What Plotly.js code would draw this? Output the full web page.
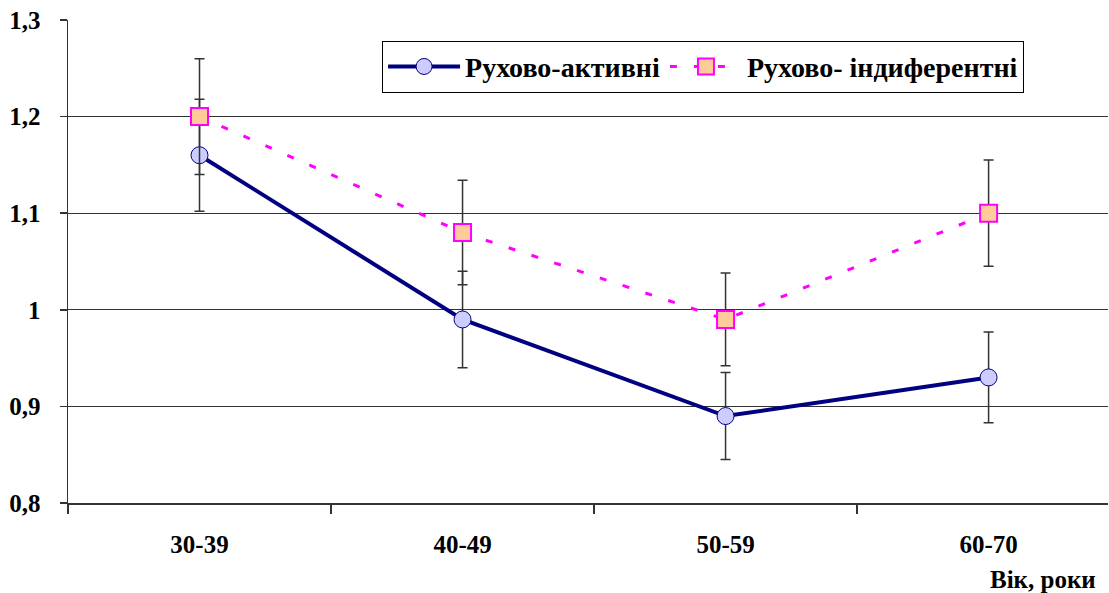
<!DOCTYPE html>
<html>
<head>
<meta charset="utf-8">
<script src="https://cdn.plot.ly/plotly-3.0.1.min.js"></script>
<style>html,body{margin:0;padding:0;background:#fff;}#chart{width:1109px;height:593px;}</style>
</head>
<body>
<div id="chart"></div>
<script>
const categories = ['30-39', '40-49', '50-59', '60-70'];
const activeName = 'Рухово-активні';
const activeValues = [1.16, 0.99, 0.89, 0.93];
const activeErrors = [0.058, 0.05, 0.045, 0.047];
const indiffName = 'Рухово- індиферентні';
const indiffValues = [1.20, 1.08, 0.99, 1.10];
const indiffErrors = [0.06, 0.054, 0.048, 0.055];
const yTicks = [0.8, 0.9, 1.0, 1.1, 1.2, 1.3];
const yTickText = ['0,8', '0,9', '1', '1,1', '1,2', '1,3'];
const xAxisTitle = 'Вік, роки';

const serif = 'Liberation Serif, Times New Roman, serif';

const traces = [
  {
    type: 'scatter', mode: 'lines+markers', name: '<b>' + activeName + '</b>',
    x: categories, y: activeValues,
    line: {color: '#000080', width: 4},
    marker: {symbol: 'circle', size: 17, color: '#ccccff', line: {color: '#000080', width: 1}},
    error_y: {type: 'data', array: activeErrors, visible: true, color: '#333333', thickness: 1.5, width: 5}
  },
  {
    type: 'scatter', mode: 'lines+markers', name: '<b>' + indiffName + '</b>',
    x: categories, y: indiffValues,
    line: {color: '#ff00ff', width: 3, dash: '7px,17px'},
    marker: {symbol: 'square', size: 17, color: '#ffcc99', line: {color: '#ff00ff', width: 2}},
    error_y: {type: 'data', array: indiffErrors, visible: true, color: '#333333', thickness: 1.5, width: 5}
  }
];

const layout = {
  width: 1109, height: 593,
  margin: {l: 68, r: 1, t: 20, b: 90},
  paper_bgcolor: '#ffffff', plot_bgcolor: '#ffffff',
  font: {family: serif, color: '#000000', size: 22, weight: 'bold'},
  showlegend: true,
  legend: {
    orientation: 'h', x: 0.302, y: 0.957, xanchor: 'left', yanchor: 'top',
    bordercolor: '#000000', borderwidth: 1, bgcolor: '#ffffff',
    itemwidth: 72,
    font: {family: serif, size: 28, color: '#000000', weight: 'bold'}
  },
  xaxis: {
    type: 'category', range: [-0.5, 3.454],
    showgrid: false, zeroline: false,
    showline: true, linecolor: '#333333', linewidth: 1.5,
    ticks: 'outside', tickson: 'boundaries', ticklen: 9, tickcolor: '#333333', tickwidth: 1.5,
    ticklabelstandoff: 18,
    tickfont: {family: serif, size: 25, color: '#000000', weight: 'bold'}
  },
  yaxis: {
    range: [0.8, 1.3], tickvals: yTicks, ticktext: yTickText,
    showgrid: true, gridcolor: '#333333', gridwidth: 1.2,
    zeroline: false,
    showline: true, linecolor: '#333333', linewidth: 1.5,
    ticks: 'outside', ticklen: 7, tickcolor: '#333333', tickwidth: 1.5,
    ticklabelstandoff: 14,
    tickfont: {family: serif, size: 25, color: '#000000', weight: 'bold'}
  },
  annotations: [{
    text: xAxisTitle, xref: 'paper', yref: 'paper', x: 0.99, y: -0.159,
    xanchor: 'right', yanchor: 'middle', showarrow: false,
    font: {family: serif, size: 25, color: '#000000', weight: 'bold'}
  }]
};

Plotly.newPlot('chart', traces, layout, {displayModeBar: false, staticPlot: true});
</script>
</body>
</html>
